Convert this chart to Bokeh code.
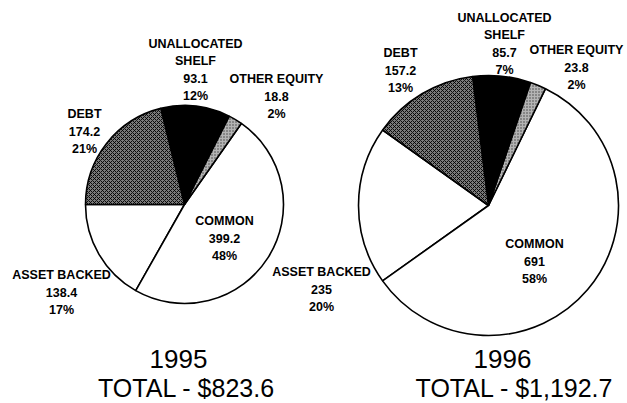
import math
from bokeh.plotting import figure
from bokeh.models import Range1d
from bokeh.core.properties import value
from bokeh.embed import file_html
from bokeh.resources import INLINE

# ---- data ----
categories = ["ASSET BACKED", "COMMON", "OTHER EQUITY", "UNALLOCATED SHELF", "DEBT"]
values_1995 = [138.4, 399.2, 18.8, 93.1, 174.2]
pct_1995 = [17, 48, 2, 12, 21]
values_1996 = [235, 691, 23.8, 85.7, 157.2]
pct_1996 = [20, 58, 2, 7, 13]
years = ["1995", "1996"]
totals = ["$823.6", "$1,192.7"]

# ---- layout / style ----
W, H = 627, 403
def Y(py):
    return H - py

p = figure(width=W, height=H, output_backend="svg", toolbar_location=None,
           x_range=Range1d(0, W), y_range=Range1d(0, H),
           min_border=0, outline_line_color=None)
p.axis.visible = False
p.grid.visible = False
p.background_fill_color = "white"
p.border_fill_color = "white"

fills = ["white", "white", "#b4b4b4", "black", "#7a7a7a"]
hatches = [None, None, "dot", None, "x"]
hatch_scales = [6, 6, 3, 6, 4]

pies = [
    dict(cx=184, cy=204, r=99, start=180.0, vals=values_1995, pcts=pct_1995,
         labels={"ASSET BACKED": (61, 274), "COMMON": (224, 220), "OTHER EQUITY": (276, 78),
                 "UNALLOCATED SHELF": (195, 43), "DEBT": (84, 113)},
         title_x=178, total_x=186),
    dict(cx=488, cy=205, r=130, start=144.5, vals=values_1996, pcts=pct_1996,
         labels={"ASSET BACKED": (321, 271), "COMMON": (534, 243), "OTHER EQUITY": (576, 49),
                 "UNALLOCATED SHELF": (504, 17), "DEBT": (400, 52)},
         title_x=502, total_x=514),
]

font = value("Liberation Sans")
LS = 17.5

for k, pie in enumerate(pies):
    tot = sum(pie["vals"])
    a = math.radians(pie["start"])
    for i, (cat, v, pc) in enumerate(zip(categories, pie["vals"], pie["pcts"])):
        b = a + 2 * math.pi * v / tot
        kw = dict(fill_color=fills[i], line_color="black", line_width=1.6)
        if hatches[i]:
            kw.update(hatch_pattern=hatches[i], hatch_color="black" if i == 4 else "#333333",
                      hatch_scale=hatch_scales[i], hatch_weight=1, hatch_alpha=0.9)
        p.wedge(x=pie["cx"], y=Y(pie["cy"]), radius=pie["r"], start_angle=a, end_angle=b, **kw)
        a = b
        # label
        lx, ly = pie["labels"][cat]
        name_lines = ["UNALLOCATED", "SHELF"] if cat == "UNALLOCATED SHELF" else [cat]
        vtxt = f"{v:g}"
        lines = name_lines + [vtxt, f"{pc}%"]
        for j, t in enumerate(lines):
            p.text(x=[lx], y=[Y(ly + j * LS)], text=[t], text_font=font,
                   text_font_size="12.5px", text_font_style="bold", text_color="black",
                   text_align="center", text_baseline="middle")
    p.text(x=[pie["title_x"]], y=[Y(358)], text=[years[k]], text_font=font,
           text_font_size="26px", text_color="black", text_align="center", text_baseline="middle")
    p.text(x=[pie["total_x"]], y=[Y(387)], text=[f"TOTAL - {totals[k]}"], text_font=font,
           text_font_size="25px", text_color="black", text_align="center", text_baseline="middle")

open("out.html", "w").write(file_html(p, INLINE))
